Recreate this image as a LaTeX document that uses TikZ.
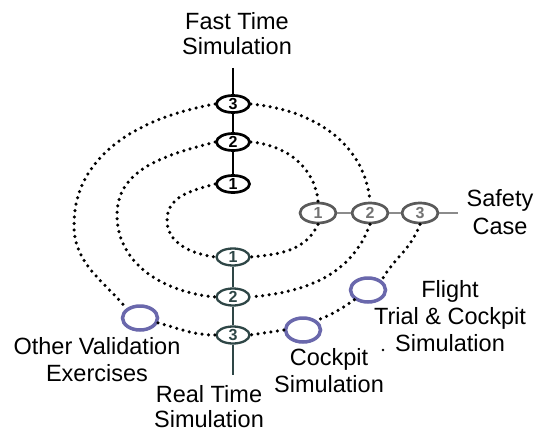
\documentclass[tikz,border=0pt]{standalone}
\usepackage{fontspec}
\setmainfont{Liberation Sans}
\usetikzlibrary{shapes.geometric}
\definecolor{ring}{HTML}{6A68AC}
\definecolor{slate}{HTML}{2E4646}
\definecolor{hgray}{HTML}{5A5A5A}
\begin{document}
\begin{tikzpicture}[x=1pt,y=1pt,
  num/.style={ellipse, draw, line width=2.7pt, minimum width=33pt, minimum height=17pt, inner sep=0pt, font=\fontsize{16}{16}\selectfont\bfseries},
  topn/.style={num, draw=black, text=black},
  botn/.style={num, draw=slate, text=slate, line width=2.3pt},
  hn/.style={num, draw=hgray, text=hgray!85, minimum width=36pt, minimum height=20pt},
  val/.style={ellipse, draw=ring, line width=3.5pt, inner sep=0pt, minimum width=35pt, minimum height=24pt},
  lbl/.style={align=center, inner sep=0pt, anchor=north, font=\fontsize{23.5}{#1}\selectfont},
  lbl/.default=26,
  dots/.style={line width=3.5pt, dash pattern=on 0pt off 6.5pt, line cap=round},
  link/.style={line width=1.8pt}]
\fill[white] (0,0) rectangle (534,432);
\useasboundingbox (0,0) rectangle (534,432);
% numbered nodes
\node[topn] (t3) at (233,328) {3};
\node[topn] (t2) at (233,290) {2};
\node[topn] (t1) at (233,248) {1};
\node[botn] (b1) at (233,175) {1};
\node[botn] (b2) at (233,135) {2};
\node[botn] (b3) at (233,97) {3};
\node[hn] (h1) at (318,219) {1};
\node[hn] (h2) at (370,219) {2};
\node[hn] (h3) at (420,219) {3};
% validation ellipses
\node[val] (oth) at (140,114) {};
\node[val] (ck) at (303,102) {};
\node[val] (fl) at (368,142) {};
% axis ends
\coordinate (ftop) at (233,364);
\coordinate (rbot) at (233,57);
\coordinate (sright) at (458,219);
% axis lines
\draw[link,black] (ftop) -- (t3) -- (t2) -- (t1);
\draw[link,slate] (b1) -- (b2) -- (b3) -- (rbot);
\draw[link,hgray!70] (h1) -- (h2) -- (h3) -- (sright);
% dotted rings
\draw[dots] (t1.west) to[out=195,in=90] (167,212) to[out=-90,in=172] (b1.west);
\draw[dots] (t2.west) to[out=195,in=90] (117,217) to[out=-90,in=175] (b2.west);
\draw[dots] (t3.west) to[out=190,in=90] (74,207) to[out=-90,in=130] (oth.north west);
\draw[dots] (oth.-15) to[out=-15,in=180] (b3.west);
\draw[dots] (t2.east) to[out=-5,in=95] (h1.north);
\draw[dots] (t3.east) to[out=-5,in=95] (h2.north);
\draw[dots] (h1.south) to[out=-115,in=5] (b1.east);
\draw[dots] (h2.south) to[out=-110,in=5] (b2.east);
\draw[dots] (h3.south) to[out=-110,in=60] (fl.north east);
\draw[dots] (fl.south west) to[out=-145,in=20] (ck.north east);
\draw[dots] (ck.west) -- (b3.east);
% stray dot
\fill (383,82) circle (1.3);
% labels
\node[lbl=25] (lfast) at (237,420) {Fast Time\\Simulation};
\node[lbl=28] (lsafe) at (500,243) {Safety\\Case};
\node[lbl=27] (lflight) at (450,152) {Flight\\Trial \& Cockpit\\Simulation};
\node[lbl=27] (lcock) at (329,84) {Cockpit\\Simulation};
\node[lbl=25] (lreal) at (209,47) {Real Time\\Simulation};
\node[lbl=27] (lother) at (97,95) {Other Validation\\Exercises};
\end{tikzpicture}
\end{document}
